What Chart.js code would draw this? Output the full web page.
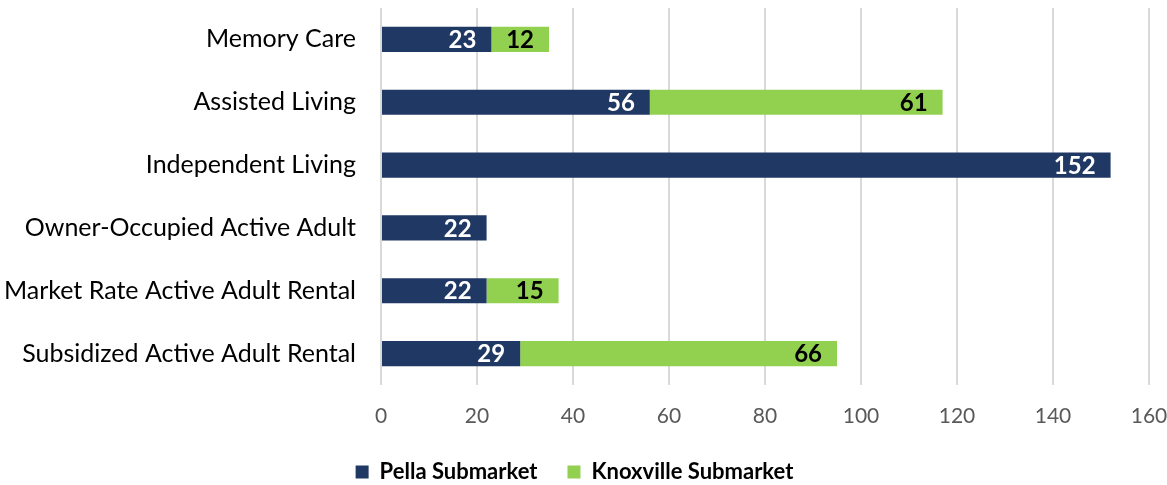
<!DOCTYPE html>
<html>
<head>
<meta charset="utf-8">
<script src="https://cdn.jsdelivr.net/npm/chart.js@4"></script>
<style>
  html, body { margin: 0; padding: 0; background: #fff; }
  #wrap { width: 1167px; height: 485px; position: relative; }
</style>
</head>
<body>
<div id="wrap"><canvas id="myChart"></canvas></div>
<script>
// Chart data
const categories = ['Memory Care', 'Assisted Living', 'Independent Living', 'Owner-Occupied Active Adult', 'Market Rate Active Adult Rental', 'Subsidized Active Adult Rental'];
const pellaValues = [23, 56, 152, 22, 22, 29];
const knoxvilleValues = [12, 61, 0, 0, 15, 66];
const xTicks = [0, 20, 40, 60, 80, 100, 120, 140, 160];

const FONT = 'Lato, "Open Sans", sans-serif';

// Draw value labels inside the end of each bar
const barLabels = {
  id: 'barLabels',
  afterDatasetsDraw(chart) {
    const ctx = chart.ctx;
    ctx.save();
    ctx.font = 'bold 24px ' + FONT;
    ctx.textAlign = 'right';
    ctx.textBaseline = 'middle';
    chart.data.datasets.forEach((ds, i) => {
      const meta = chart.getDatasetMeta(i);
      meta.data.forEach((bar, j) => {
        const v = ds.data[j];
        if (!v) return; // no label for empty segments
        ctx.fillStyle = ds.labelColor;
        ctx.fillText(String(v), bar.x - 15, bar.y + 1);
      });
    });
    ctx.restore();
  }
};

const ctx = document.getElementById('myChart').getContext('2d');
const myChart = new Chart(ctx, {
  type: 'bar',
  data: {
    labels: categories,
    datasets: [{
      label: 'Pella Submarket',
      data: pellaValues,
      backgroundColor: '#203864',
      labelColor: '#ffffff',
      barPercentage: 0.4,
      categoryPercentage: 1
    }, {
      label: 'Knoxville Submarket',
      data: knoxvilleValues,
      backgroundColor: '#92d050',
      labelColor: '#000000',
      barPercentage: 0.4,
      categoryPercentage: 1
    }]
  },
  options: {
    indexAxis: 'y',
    responsive: true,
    maintainAspectRatio: false,
    animation: false,
    layout: { padding: { top: 8, right: 18, bottom: -8, left: 0 } },
    scales: {
      x: {
        stacked: true,
        min: 0,
        max: 160,
        afterBuildTicks: (scale) => { scale.ticks = xTicks.map(v => ({ value: v })); },
        afterFit: (scale) => {
          scale.height = 46;
          scale.paddingLeft = 0;
          scale.paddingRight = 0;
        },
        grid: { color: '#d9d9d9', lineWidth: 2, drawTicks: false },
        border: { display: false },
        ticks: { color: '#595959', font: { family: FONT, size: 21 }, padding: 19, maxRotation: 0 }
      },
      y: {
        stacked: true,
        afterFit: (scale) => {
          scale.width = 381;
          scale.paddingTop = 0;
          scale.paddingBottom = 0;
        },
        grid: { display: false, drawTicks: false },
        border: { display: false },
        ticks: { color: '#000000', font: { family: FONT, size: 25 }, padding: 25 }
      }
    },
    plugins: {
      legend: {
        position: 'bottom',
        labels: {
          color: '#000000',
          font: { family: FONT, size: 22, weight: 'bold' },
          boxWidth: 13,
          boxHeight: 13,
          padding: 30
        }
      },
      tooltip: { enabled: false }
    }
  },
  plugins: [barLabels]
});
</script>
</body>
</html>
